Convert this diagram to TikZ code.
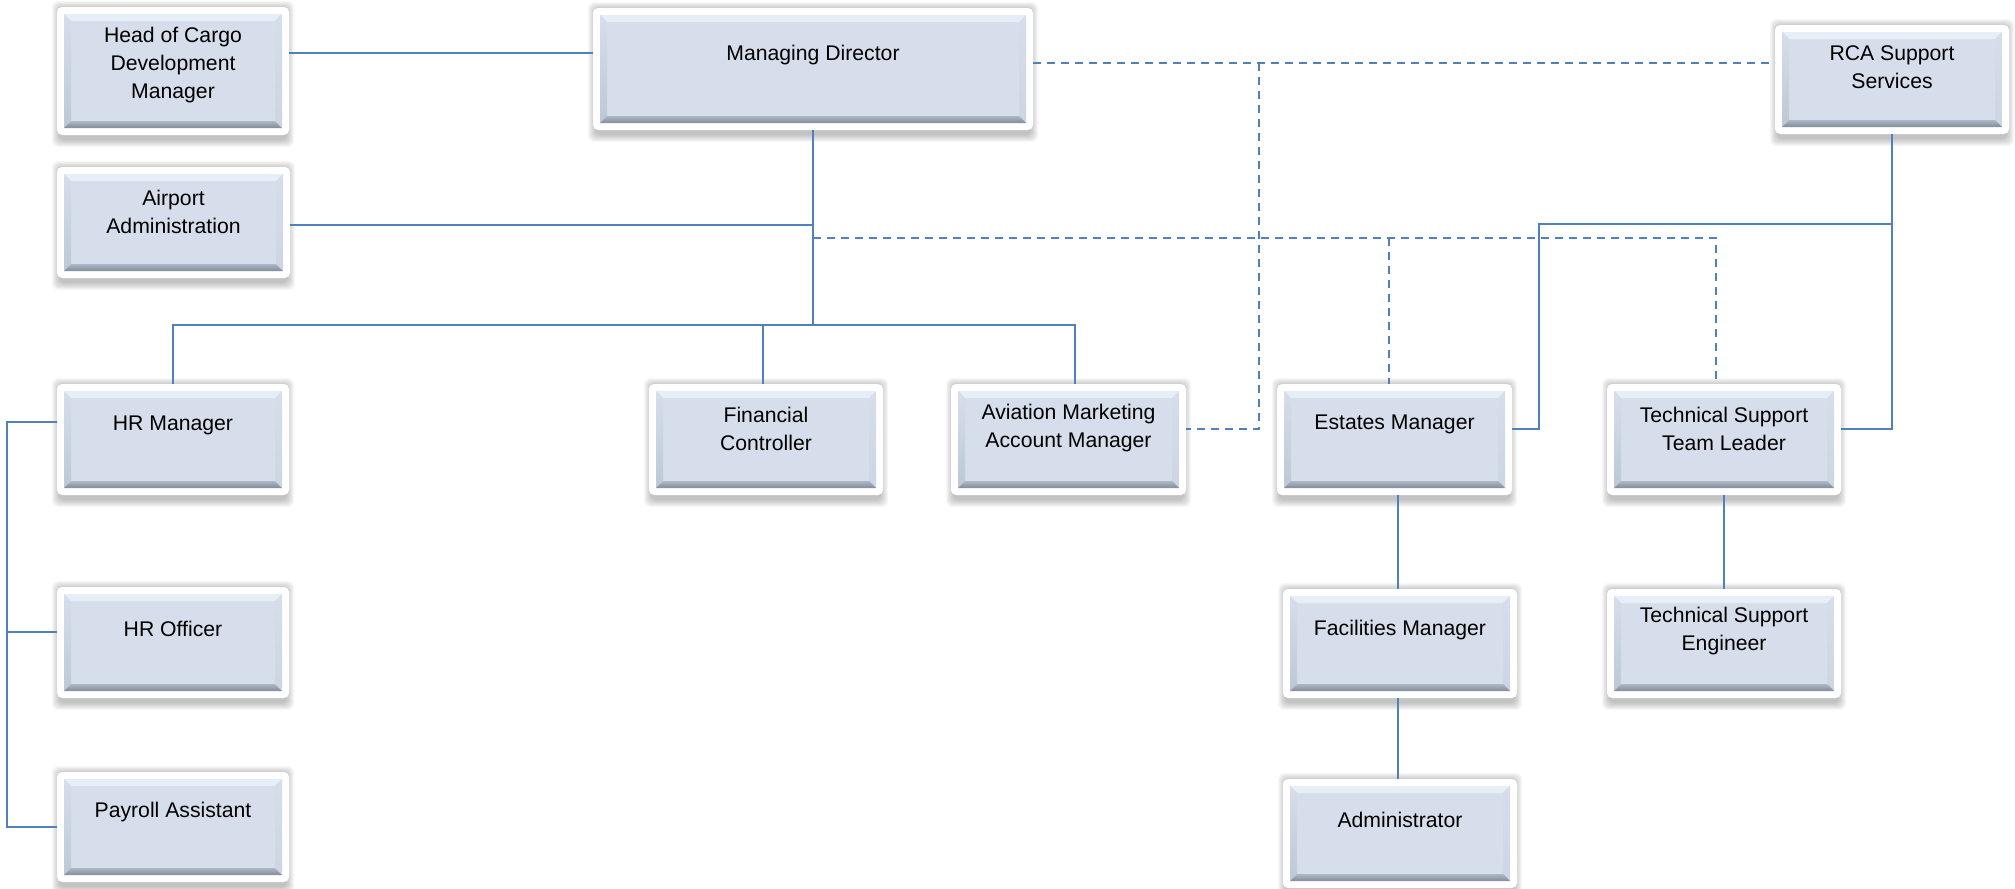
\documentclass[tikz,border=0pt]{standalone}
\usepackage{fontspec}
\setmainfont{Liberation Sans}
\usetikzlibrary{calc}

\definecolor{linkblue}{HTML}{4F81BD}
\definecolor{facefill}{HTML}{D5DEEA}
\definecolor{bevtop}{HTML}{E6EEF8}
\definecolor{bevleft}{HTML}{BEC8D5}
\definecolor{bevright}{HTML}{CCD6E2}
\definecolor{bevbotA}{HTML}{AEB8C5}
\definecolor{bevbotB}{HTML}{828C9A}

\tikzset{
  frame/.style={rectangle, fill=white, rounded corners=2.5pt, inner sep=0pt, outer sep=0pt},
  boxtext/.style={align=center, inner sep=0pt, font=\fontsize{10.6}{14}\selectfont, text=black},
  conn/.style={draw=linkblue, line width=1pt},
  dconn/.style={conn, dash pattern=on 4pt off 3pt},
}

% #1 name, #2 #3 centre, #4 #5 width and height, #6 lift of the label, #7 label
\newcommand\orgbox[7]{%
  \begin{scope}[shift={(#2,#3)}]
    \foreach \k in {1,...,8}
      \fill[black, opacity=0.03, rounded corners=3pt]
        (-#4/2-\k+3, -#5/2+2-\k) rectangle (#4/2+\k-3, #5/2+4+\k);
    \node[frame, minimum width=#4*0.5pt, minimum height=#5*0.5pt] (#1) at (0,0) {};
    \pgfmathsetmacro\bL{-#4/2+7}
    \pgfmathsetmacro\bR{#4/2-7}
    \pgfmathsetmacro\bT{-#5/2+7}
    \pgfmathsetmacro\bB{#5/2-7}
    \fill[facefill] (\bL,\bT) rectangle (\bR,\bB);
    \fill[bevtop] (\bL,\bT) -- (\bR,\bT) -- (\bR-7,\bT+7) -- (\bL+7,\bT+7) -- cycle;
    \shade[top color=facefill, bottom color=bevleft]
      (\bL,\bT) -- (\bL+7,\bT+7) -- (\bL+7,\bB-7) -- (\bL,\bB) -- cycle;
    \shade[top color=facefill, bottom color=bevright]
      (\bR,\bT) -- (\bR-7,\bT+7) -- (\bR-7,\bB-7) -- (\bR,\bB) -- cycle;
    \shade[top color=bevbotA, bottom color=bevbotB]
      (\bL,\bB) -- (\bR,\bB) -- (\bR-7,\bB-7) -- (\bL+7,\bB-7) -- cycle;
    \node[boxtext] (#1-label) at (0,-#6) {#7};
  \end{scope}}

\begin{document}
\begin{tikzpicture}[x=0.5pt, y=-0.5pt]
  \fill[white] (0,0) rectangle (2015,889);
  \useasboundingbox (0,0) rectangle (2015,889);

  % positions
  \orgbox{hc}{173}{71}{232}{128}{6}{Head of Cargo\\Development\\Manager}
  \orgbox{md}{813}{69}{440}{122}{14}{Managing Director}
  \orgbox{rca}{1892}{79.5}{234}{109}{12}{RCA Support\\Services}
  \orgbox{aa}{173.5}{222.5}{233}{111}{11}{Airport\\Administration}
  \orgbox{hrm}{173}{439.5}{232}{111}{14}{HR Manager}
  \orgbox{fc}{766}{439.5}{234}{111}{11}{Financial\\Controller}
  \orgbox{av}{1068.5}{439.5}{235}{111}{11}{Aviation Marketing\\Account Manager}
  \orgbox{est}{1394.5}{439.5}{235}{111}{15}{Estates Manager}
  \orgbox{tstl}{1724}{439.5}{234}{111}{11}{Technical Support\\Team Leader}
  \orgbox{hro}{173}{642.5}{232}{111}{13.5}{HR Officer}
  \orgbox{pa}{173}{827}{232}{110}{15}{Payroll Assistant}
  \orgbox{fm}{1400}{643.5}{234}{109}{13}{Facilities Manager}
  \orgbox{adm}{1400}{833.5}{234}{109}{14}{Administrator}
  \orgbox{tse}{1724}{643.5}{234}{109}{12}{Technical Support\\Engineer}

  % routing levels
  \coordinate (yhc) at (0,53);
  \coordinate (ymd) at (0,63);
  \coordinate (yrca) at (0,224);
  \coordinate (yaa) at (0,225);
  \coordinate (ydash) at (0,238);
  \coordinate (ybus) at (0,325);
  \coordinate (ylow) at (0,429);
  \coordinate (dv) at (1259,63);
  \coordinate (xj) at (1539,0);
  \coordinate (xhr) at (7,0);
  \coordinate (yhr) at (0,422);
  \coordinate (yho) at (0,632);
  \coordinate (ypa) at (0,827);

  % solid reporting lines
  \draw[conn] (hc.east |- yhc) -- (md.west |- yhc);
  \draw[conn] (md.south) -- (md.south |- ybus);
  \draw[conn] (aa.east |- yaa) -- (md.south |- yaa);
  \draw[conn] (hrm.north) |- ([xshift=3pt]av.north |- ybus) -- ([xshift=3pt]av.north);
  \draw[conn] ([xshift=-1.5pt]fc.north) -- ([xshift=-1.5pt]fc.north |- ybus);
  \draw[conn] (rca.south) |- (tstl.east |- ylow);
  \draw[conn] (rca.south |- yrca) -| (xj |- ylow) -- (est.east |- ylow);
  \draw[conn] (hrm.west |- yhr) -| (xhr |- ypa) -- (pa.west |- ypa);
  \draw[conn] (xhr |- yho) -- (hro.west |- yho);
  \draw[conn] ([xshift=-1pt]fm.north) -- ([xshift=-1pt]fm.north |- est.south);
  \draw[conn] ([xshift=-1pt]fm.south) -- ([xshift=-1pt]adm.north);
  \draw[conn] (tstl.south) -- (tse.north);

  % dashed links
  \draw[dconn] (md.east |- ymd) -- (rca.west |- ymd);
  \draw[dconn] (dv) |- (av.east |- ylow);
  \draw[dconn] (md.south |- ydash) -| ([xshift=-4pt]tstl.north);
  \draw[dconn] ([xshift=-3pt]est.north |- ydash) -- ([xshift=-3pt]est.north);
\end{tikzpicture}
\end{document}
